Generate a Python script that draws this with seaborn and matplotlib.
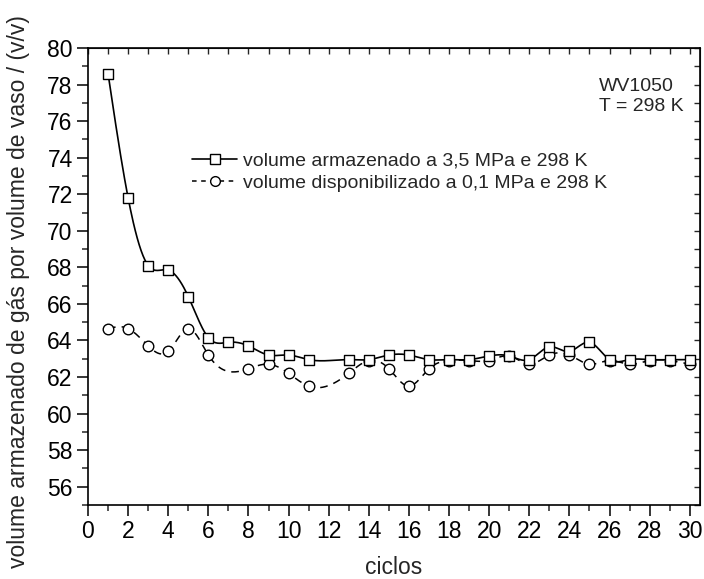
import numpy as np
import pandas as pd
import matplotlib
matplotlib.use("Agg")
import matplotlib.pyplot as plt
from matplotlib.ticker import MultipleLocator
from matplotlib.lines import Line2D
import seaborn as sns

# ---- data ----
sq_x = [1, 2, 3, 4, 5, 6, 7, 8, 9, 10, 11,
        13, 14, 15, 16, 17, 18, 19, 20, 21, 22, 23, 24, 25, 26, 27, 28, 29, 30]
sq_y = [78.6, 71.8, 68.1, 67.85, 66.4, 64.15, 63.9, 63.7, 63.2, 63.2, 62.95,
        62.95, 62.95, 63.2, 63.2, 62.95, 62.95, 62.95, 63.15, 63.15, 62.95,
        63.65, 63.4, 63.9, 62.95, 62.95, 62.95, 62.95, 62.95]
ci_x = [1, 2, 3, 4, 5, 6, 8, 9, 10, 11,
        13, 14, 15, 16, 17, 18, 19, 20, 21, 22, 23, 24, 25, 26, 27, 28, 29, 30]
ci_y = [64.65, 64.65, 63.7, 63.4, 64.65, 63.2, 62.45, 62.7, 62.2, 61.5,
        62.2, 62.9, 62.45, 61.5, 62.45, 62.9, 62.9, 62.9, 63.15, 62.7,
        63.2, 63.2, 62.7, 62.9, 62.7, 62.9, 62.9, 62.7]
label_sq = "volume armazenado a 3,5 MPa e 298 K"
label_ci = "volume disponibilizado a 0,1 MPa e 298 K"
x_ticks = list(range(0, 31, 2))
y_ticks = list(range(56, 81, 2))


def natural_spline(x, y, n=600):
    x = np.asarray(x, float); y = np.asarray(y, float)
    h = np.diff(x)
    m = len(x)
    A = np.zeros((m, m)); r = np.zeros(m)
    A[0, 0] = A[-1, -1] = 1
    for i in range(1, m - 1):
        A[i, i - 1] = h[i - 1]
        A[i, i] = 2 * (h[i - 1] + h[i])
        A[i, i + 1] = h[i]
        r[i] = 6 * ((y[i + 1] - y[i]) / h[i] - (y[i] - y[i - 1]) / h[i - 1])
    M = np.linalg.solve(A, r)
    xs = np.linspace(x[0], x[-1], n)
    idx = np.clip(np.searchsorted(x, xs) - 1, 0, m - 2)
    x0, x1 = x[idx], x[idx + 1]
    hh = x1 - x0
    a = (x1 - xs) / hh; b = (xs - x0) / hh
    ys = (a * y[idx] + b * y[idx + 1]
          + ((a ** 3 - a) * M[idx] + (b ** 3 - b) * M[idx + 1]) * hh ** 2 / 6)
    return xs, ys


sns.set_style("ticks")
plt.rcParams['font.family'] = ['Liberation Sans', 'DejaVu Sans']

fig = plt.figure(figsize=(7.04, 5.79), dpi=100)
ax = fig.add_axes([0.125, 0.128, 0.869, 0.789])

sx, sy = natural_spline(sq_x, sq_y)
cx, cy = natural_spline(ci_x, ci_y)
df_sq = pd.DataFrame({"x": sx, "y": sy})
df_ci = pd.DataFrame({"x": cx, "y": cy})
sns.lineplot(data=df_sq, x="x", y="y", ax=ax, color="black", lw=1.2,
             sort=False, estimator=None)
sns.lineplot(data=df_ci, x="x", y="y", ax=ax, color="black", lw=1.1,
             sort=False, estimator=None, dashes=False)
ax.lines[-1].set_dashes((5, 4))

pts_sq = pd.DataFrame({"x": sq_x, "y": sq_y})
pts_ci = pd.DataFrame({"x": ci_x, "y": ci_y})
sns.scatterplot(data=pts_ci, x="x", y="y", ax=ax, marker="o", s=58,
                facecolor="white", edgecolor="black", linewidth=1.0, zorder=3)
sns.scatterplot(data=pts_sq, x="x", y="y", ax=ax, marker="s", s=58,
                facecolor="white", edgecolor="black", linewidth=1.0, zorder=4)

ax.set_xlim(0, 30.5)
ax.set_ylim(55, 80)
ax.set_xticks(x_ticks)
ax.set_yticks(y_ticks)
ax.xaxis.set_minor_locator(MultipleLocator(1))
ax.yaxis.set_minor_locator(MultipleLocator(1))
ax.tick_params(which="major", direction="out", length=8, width=1.1,
               labelsize=16.5, colors="black", top=False, right=False, pad=3)
ax.tick_params(which="minor", direction="out", length=4, width=1.1,
               top=False, right=False)
for s in ax.spines.values():
    s.set_linewidth(1.2)
    s.set_color("black")

top = ax.secondary_xaxis("top")
top.set_xticks(x_ticks)
top.xaxis.set_minor_locator(MultipleLocator(1))
top.tick_params(which="both", direction="in", length=4, width=1.0, labelsize=0)
top.set_xticklabels([])
right = ax.secondary_yaxis("right")
right.set_yticks(y_ticks)
right.yaxis.set_minor_locator(MultipleLocator(1))
right.tick_params(which="both", direction="in", length=4, width=1.0, labelsize=0)
right.set_yticklabels([])

ax.set_xlabel("ciclos", fontsize=16.5, va="center")
ax.xaxis.set_label_coords(0.5, -0.136)
ax.set_ylabel("volume armazenado de gás por volume de vaso / (v/v)",
              fontsize=16.5, va="center")
ax.yaxis.set_label_coords(-0.114, 0.466)

handles = [
    Line2D([], [], color="black", lw=1.2, marker="s", markersize=7,
           markerfacecolor="white", markeredgecolor="black"),
    Line2D([], [], color="black", lw=1.1, dashes=(3, 3), marker="o",
           markersize=7, markerfacecolor="white", markeredgecolor="black"),
]
ax.legend(handles, [label_sq, label_ci], loc="upper left",
          bbox_to_anchor=(0.158, 0.79), frameon=False, fontsize=14,
          handlelength=2.3, handletextpad=0.3, labelspacing=0.25,
          borderaxespad=0)

ax.text(0.835, 0.935, "WV1050\nT = 298 K", transform=ax.transAxes,
        fontsize=14, va="top", ha="left", linespacing=1.25)

fig.savefig("out.png", dpi=100)
